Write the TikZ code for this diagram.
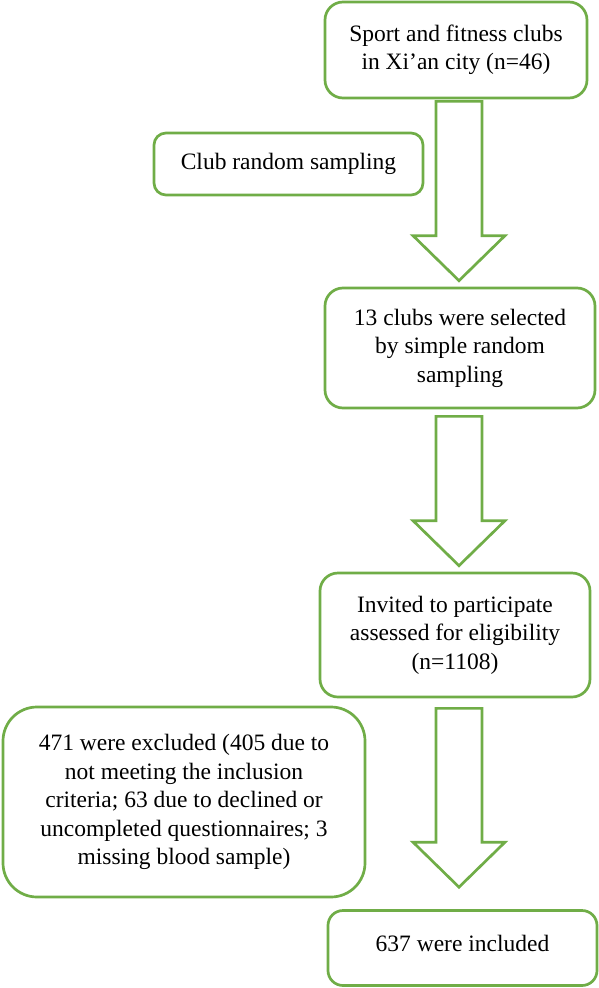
\documentclass[tikz,border=0pt]{standalone}
\usepackage{fontspec}
\setmainfont{Liberation Serif}
\usetikzlibrary{calc}
\definecolor{boxgreen}{HTML}{70AD47}
\tikzset{
  box/.style={draw=boxgreen, line width=2.7pt, fill=white, rounded corners=18pt,
    inner sep=0pt, align=center, font=\fontsize{23.5}{28.5}\selectfont, text=black},
  barrow/.style={draw=boxgreen, line width=2.7pt, fill=white, line join=miter}
}
% #1 from node, #2 to node, #3 top gap, #4 tip gap
\newcommand\blockarr[4]{%
  \draw[barrow] let \p1=(#1.south), \p2=(#2.north) in
    (436pt,\y1-#3) -- (482pt,\y1-#3) -- (482pt,\y2+#4+45pt) -- (505pt,\y2+#4+45pt)
    -- (459pt,\y2+#4) -- (413pt,\y2+#4+45pt) -- (436pt,\y2+#4+45pt) -- cycle;}
\begin{document}
\begin{tikzpicture}[x=1pt,y=-1pt]
\useasboundingbox (0,0) rectangle (598,988);
\node[box, minimum width=262pt, minimum height=96pt] (b1) at (456,50)
  {Sport and fitness clubs\\in Xi’an city (n=46)};
\node[box, rounded corners=12pt, minimum width=269pt, minimum height=62pt] (b2) at (288.5,164)
  {Club random sampling};
\node[box, minimum width=270pt, minimum height=120pt] (b3) at (460,348)
  {13 clubs were selected\\by simple random\\sampling};
\node[box, minimum width=270pt, minimum height=124pt] (b4) at (455,635)
  {Invited to participate\\assessed for eligibility\\(n=1108)};
\node[box, rounded corners=34pt, minimum width=362pt, minimum height=190pt] (b5) at (184,802)
  {471 were excluded (405 due to\\not meeting the inclusion\\criteria; 63 due to declined or\\uncompleted questionnaires; 3\\missing blood sample)};
\node[box, rounded corners=15pt, minimum width=269pt, minimum height=75pt] (b6) at (462.5,948)
  {\raisebox{9pt}{637 were included}};
\blockarr{b1}{b3}{2pt}{6pt}
\blockarr{b3}{b4}{7pt}{6pt}
\blockarr{b4}{b6}{10pt}{22pt}
\end{tikzpicture}
\end{document}
